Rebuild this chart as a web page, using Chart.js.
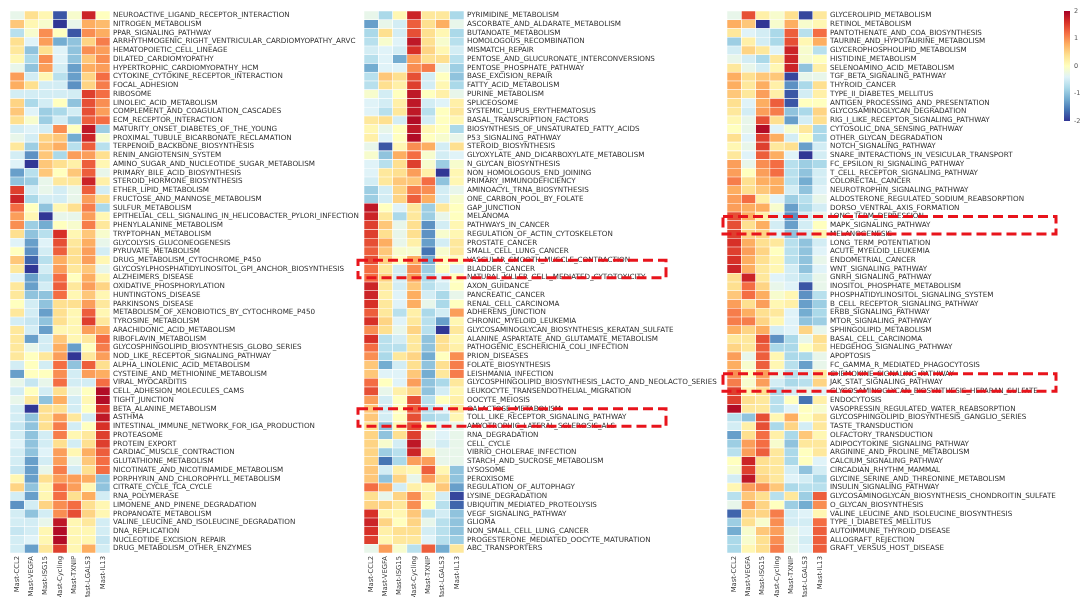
<!DOCTYPE html>
<html>
<head>
<meta charset="utf-8">
<script src="https://cdn.jsdelivr.net/npm/chart.js@4.4.1/dist/chart.umd.min.js"></script>
<style>
  html, body { margin: 0; padding: 0; background: #ffffff; }
  #wrap { position: relative; width: 1083px; height: 597px; overflow: hidden; background: #ffffff; }
  .layer { position: absolute; left: 0; top: 0; width: 1083px; height: 597px; pointer-events: none; }
</style>
</head>
<body>
<div id="wrap">
  <canvas class="layer" id="panelA" width="1083" height="597"></canvas>
  <canvas class="layer" id="panelB" width="1083" height="597"></canvas>
  <canvas class="layer" id="panelC" width="1083" height="597"></canvas>
  <canvas class="layer" id="legend" width="1083" height="597"></canvas>
</div>
<script>
// Mast cell subsets (heatmap columns)
const samples = ['Mast-CCL2', 'Mast-VEGFA', 'Mast-ISG15', 'Mast-Cycling', 'Mast-TXNIP', 'Mast-LGALS3', 'Mast-IL13'];

// KEGG pathway activity scores (row-scaled), first block
const pathwaysA = [
  'NEUROACTIVE_LIGAND_RECEPTOR_INTERACTION', 'NITROGEN_METABOLISM', 'PPAR_SIGNALING_PATHWAY',
  'ARRHYTHMOGENIC_RIGHT_VENTRICULAR_CARDIOMYOPATHY_ARVC', 'HEMATOPOIETIC_CELL_LINEAGE', 'DILATED_CARDIOMYOPATHY',
  'HYPERTROPHIC_CARDIOMYOPATHY_HCM', 'CYTOKINE_CYTOKINE_RECEPTOR_INTERACTION', 'FOCAL_ADHESION', 'RIBOSOME',
  'LINOLEIC_ACID_METABOLISM', 'COMPLEMENT_AND_COAGULATION_CASCADES', 'ECM_RECEPTOR_INTERACTION',
  'MATURITY_ONSET_DIABETES_OF_THE_YOUNG', 'PROXIMAL_TUBULE_BICARBONATE_RECLAMATION', 'TERPENOID_BACKBONE_BIOSYNTHESIS',
  'RENIN_ANGIOTENSIN_SYSTEM', 'AMINO_SUGAR_AND_NUCLEOTIDE_SUGAR_METABOLISM', 'PRIMARY_BILE_ACID_BIOSYNTHESIS',
  'STEROID_HORMONE_BIOSYNTHESIS', 'ETHER_LIPID_METABOLISM', 'FRUCTOSE_AND_MANNOSE_METABOLISM', 'SULFUR_METABOLISM',
  'EPITHELIAL_CELL_SIGNALING_IN_HELICOBACTER_PYLORI_INFECTION', 'PHENYLALANINE_METABOLISM', 'TRYPTOPHAN_METABOLISM',
  'GLYCOLYSIS_GLUCONEOGENESIS', 'PYRUVATE_METABOLISM', 'DRUG_METABOLISM_CYTOCHROME_P450',
  'GLYCOSYLPHOSPHATIDYLINOSITOL_GPI_ANCHOR_BIOSYNTHESIS', 'ALZHEIMERS_DISEASE', 'OXIDATIVE_PHOSPHORYLATION',
  'HUNTINGTONS_DISEASE', 'PARKINSONS_DISEASE', 'METABOLISM_OF_XENOBIOTICS_BY_CYTOCHROME_P450', 'TYROSINE_METABOLISM',
  'ARACHIDONIC_ACID_METABOLISM', 'RIBOFLAVIN_METABOLISM', 'GLYCOSPHINGOLIPID_BIOSYNTHESIS_GLOBO_SERIES',
  'NOD_LIKE_RECEPTOR_SIGNALING_PATHWAY', 'ALPHA_LINOLENIC_ACID_METABOLISM', 'CYSTEINE_AND_METHIONINE_METABOLISM',
  'VIRAL_MYOCARDITIS', 'CELL_ADHESION_MOLECULES_CAMS', 'TIGHT_JUNCTION', 'BETA_ALANINE_METABOLISM', 'ASTHMA',
  'INTESTINAL_IMMUNE_NETWORK_FOR_IGA_PRODUCTION', 'PROTEASOME', 'PROTEIN_EXPORT', 'CARDIAC_MUSCLE_CONTRACTION',
  'GLUTATHIONE_METABOLISM', 'NICOTINATE_AND_NICOTINAMIDE_METABOLISM', 'PORPHYRIN_AND_CHLOROPHYLL_METABOLISM',
  'CITRATE_CYCLE_TCA_CYCLE', 'RNA_POLYMERASE', 'LIMONENE_AND_PINENE_DEGRADATION', 'PROPANOATE_METABOLISM',
  'VALINE_LEUCINE_AND_ISOLEUCINE_DEGRADATION', 'DNA_REPLICATION', 'NUCLEOTIDE_EXCISION_REPAIR',
  'DRUG_METABOLISM_OTHER_ENZYMES'
];
const scoresA = [
  [-0.3, 0.4, 0.1, -1.8, -0.1, 1.7, 0.0],
  [0.6, 0.1, -0.1, -2.0, -0.3, 0.8, 0.7],
  [-0.7, -0.1, 1.0, 0.0, -1.8, 1.0, 0.8],
  [0.4, -0.4, 0.9, -1.2, -1.0, 0.5, 1.1],
  [0.3, -1.0, 0.4, -0.4, -1.0, 1.0, 0.9],
  [0.1, -0.8, 1.0, -0.4, -1.0, 0.6, 1.0],
  [-0.3, -1.0, 0.9, -0.5, -1.3, 0.8, 0.9],
  [0.9, -0.5, 0.1, -0.7, -1.3, 0.5, 1.2],
  [0.8, 0.4, -0.5, -0.5, -1.4, 0.5, 1.1],
  [-0.5, -0.5, -0.5, -0.5, -0.5, 1.5, 1.2],
  [0.5, -0.8, -0.5, 0.0, -1.0, 1.4, 1.0],
  [0.6, -0.4, -0.9, -0.8, -0.5, 1.4, 0.9],
  [0.4, -0.1, -0.9, -0.5, -0.9, 1.3, 1.2],
  [-0.5, -0.4, -0.5, 1.0, 0.0, 1.8, -0.9],
  [-0.3, -0.5, 0.5, 0.6, -1.2, 1.7, -0.1],
  [0.3, -0.9, 0.6, 0.8, -0.7, 1.3, -0.7],
  [-0.5, -1.4, 0.6, -0.8, 0.9, 0.9, 0.4],
  [-0.4, -2.0, 0.6, 0.4, 0.2, 1.3, 0.1],
  [-1.3, -0.7, 0.6, 0.0, 0.6, 1.3, -0.3],
  [-1.0, -0.9, -0.3, 0.3, 0.3, 1.7, 0.2],
  [1.5, -0.5, -0.3, -0.5, -0.3, 1.3, -0.5],
  [1.7, -0.8, -0.5, -0.5, -0.3, 0.9, 0.4],
  [1.2, 0.0, -1.0, 0.1, 0.4, 1.1, -0.8],
  [0.9, 0.1, -2.0, -0.3, -0.3, 0.9, 0.1],
  [1.0, -0.9, -1.2, 0.0, -0.1, 1.1, 0.3],
  [0.4, -1.0, -0.7, 1.6, 0.1, 0.6, -0.1],
  [-0.4, -1.3, -0.4, 1.4, 0.3, 0.8, -0.3],
  [0.0, -1.4, -0.5, 1.3, 0.4, 0.9, -0.5],
  [0.6, -1.7, -0.7, 0.8, 0.4, 0.9, 0.1],
  [0.3, -2.0, -0.5, 0.9, 0.3, 0.6, -0.3],
  [-0.4, -1.3, -0.7, 1.2, 0.0, 0.8, 0.1],
  [0.3, -1.3, -0.5, 1.3, 0.3, 0.9, 0.5],
  [0.3, -1.0, -1.0, 1.2, 0.1, 0.6, 0.1],
  [0.0, -0.5, -1.0, 0.4, 0.4, 0.9, 0.3],
  [0.3, -0.5, -1.3, 0.4, 0.1, 1.3, 0.1],
  [-0.5, -0.6, -1.0, 0.4, 0.1, 1.5, 0.3],
  [0.3, -0.5, -1.3, 0.1, 0.1, 0.9, 0.8],
  [0.3, -1.3, -0.5, 0.6, 0.1, 0.3, 1.2],
  [0.3, -0.3, -0.5, 0.8, -1.3, 0.0, 1.1],
  [0.3, 0.0, 0.3, 0.9, -2.0, 0.3, 0.9],
  [-0.5, 0.0, -0.5, 1.2, -1.0, 1.3, 0.4],
  [-1.3, 0.0, 0.0, 1.0, -0.5, 0.9, 0.8],
  [-0.3, -0.6, -0.3, 1.2, -0.5, -0.5, 1.2],
  [-0.5, 0.0, -0.5, 0.4, -0.3, 0.0, 1.9],
  [-0.3, 0.3, -1.0, 0.8, -0.5, 0.1, 1.9],
  [-0.5, -2.0, 0.4, 0.4, -0.5, 0.0, 1.6],
  [-0.5, -1.0, 0.4, 0.9, 0.3, -0.5, 1.8],
  [-0.6, -1.0, 0.4, 1.1, -0.5, 0.0, 1.6],
  [-0.5, -1.0, -0.5, 1.1, 0.1, 0.3, 1.5],
  [-0.4, -1.0, -0.5, 0.4, -0.5, 0.4, 1.5],
  [-0.5, -1.0, -0.4, 0.9, 0.1, 0.8, 1.3],
  [-0.5, -1.3, -0.5, 0.9, -0.3, 0.6, 1.2],
  [-0.6, -1.3, -0.3, 1.1, -0.5, 0.4, 1.2],
  [0.1, -1.3, 0.4, 0.9, 0.9, 0.8, -1.0],
  [0.5, -1.0, 0.1, 1.2, 0.9, 0.1, -1.0],
  [-0.5, -1.3, 0.1, 1.2, 0.4, 0.8, -0.5],
  [-1.4, -0.5, 0.5, 1.0, 1.2, 0.4, 0.1],
  [-0.5, -1.0, -0.5, 1.0, 1.4, 0.5, 0.1],
  [-0.5, -0.5, -0.3, 1.8, 0.1, 0.3, -0.5],
  [-0.6, -0.5, 0.1, 1.9, 0.1, 0.1, -0.5],
  [-0.5, -0.4, 0.1, 1.9, 0.1, 0.1, -0.6],
  [-0.5, -1.3, 0.3, 1.5, 0.1, 0.8, -0.5]
];

// second block
const pathwaysB = [
  'PYRIMIDINE_METABOLISM', 'ASCORBATE_AND_ALDARATE_METABOLISM', 'BUTANOATE_METABOLISM', 'HOMOLOGOUS_RECOMBINATION',
  'MISMATCH_REPAIR', 'PENTOSE_AND_GLUCURONATE_INTERCONVERSIONS', 'PENTOSE_PHOSPHATE_PATHWAY', 'BASE_EXCISION_REPAIR',
  'FATTY_ACID_METABOLISM', 'PURINE_METABOLISM', 'SPLICEOSOME', 'SYSTEMIC_LUPUS_ERYTHEMATOSUS',
  'BASAL_TRANSCRIPTION_FACTORS', 'BIOSYNTHESIS_OF_UNSATURATED_FATTY_ACIDS', 'P53_SIGNALING_PATHWAY',
  'STEROID_BIOSYNTHESIS', 'GLYOXYLATE_AND_DICARBOXYLATE_METABOLISM', 'N_GLYCAN_BIOSYNTHESIS',
  'NON_HOMOLOGOUS_END_JOINING', 'PRIMARY_IMMUNODEFICIENCY', 'AMINOACYL_TRNA_BIOSYNTHESIS', 'ONE_CARBON_POOL_BY_FOLATE',
  'GAP_JUNCTION', 'MELANOMA', 'PATHWAYS_IN_CANCER', 'REGULATION_OF_ACTIN_CYTOSKELETON', 'PROSTATE_CANCER',
  'SMALL_CELL_LUNG_CANCER', 'VASCULAR_SMOOTH_MUSCLE_CONTRACTION', 'BLADDER_CANCER',
  'NATURAL_KILLER_CELL_MEDIATED_CYTOTOXICITY', 'AXON_GUIDANCE', 'PANCREATIC_CANCER', 'RENAL_CELL_CARCINOMA',
  'ADHERENS_JUNCTION', 'CHRONIC_MYELOID_LEUKEMIA', 'GLYCOSAMINOGLYCAN_BIOSYNTHESIS_KERATAN_SULFATE',
  'ALANINE_ASPARTATE_AND_GLUTAMATE_METABOLISM', 'PATHOGENIC_ESCHERICHIA_COLI_INFECTION', 'PRION_DISEASES',
  'FOLATE_BIOSYNTHESIS', 'LEISHMANIA_INFECTION', 'GLYCOSPHINGOLIPID_BIOSYNTHESIS_LACTO_AND_NEOLACTO_SERIES',
  'LEUKOCYTE_TRANSENDOTHELIAL_MIGRATION', 'OOCYTE_MEIOSIS', 'GALACTOSE_METABOLISM',
  'TOLL_LIKE_RECEPTOR_SIGNALING_PATHWAY', 'AMYOTROPHIC_LATERAL_SCLEROSIS_ALS', 'RNA_DEGRADATION', 'CELL_CYCLE',
  'VIBRIO_CHOLERAE_INFECTION', 'STARCH_AND_SUCROSE_METABOLISM', 'LYSOSOME', 'PEROXISOME', 'REGULATION_OF_AUTOPHAGY',
  'LYSINE_DEGRADATION', 'UBIQUITIN_MEDIATED_PROTEOLYSIS', 'VEGF_SIGNALING_PATHWAY', 'GLIOMA',
  'NON_SMALL_CELL_LUNG_CANCER', 'PROGESTERONE_MEDIATED_OOCYTE_MATURATION', 'ABC_TRANSPORTERS'
];
const scoresB = [
  [-0.3, -0.8, 0.1, 1.7, 0.3, 0.3, -0.8],
  [-1.3, -0.3, -0.5, 1.3, 0.4, 0.8, -0.3],
  [-0.8, 0.4, -0.5, 1.4, 0.4, 0.1, -0.8],
  [-0.7, -0.1, -0.4, 1.8, 0.4, -0.1, -0.7],
  [-0.5, -0.4, -0.5, 1.6, 0.5, 0.1, -0.5],
  [-0.7, -0.4, -1.2, 0.9, 0.4, 0.4, -0.7],
  [-1.2, -0.4, -0.4, 1.0, 1.1, -0.3, -0.9],
  [-0.7, 0.6, 0.4, 1.4, -0.5, 0.0, -1.0],
  [-0.7, 0.4, 0.2, 1.5, -0.5, 0.1, -0.8],
  [-0.1, -0.5, 0.0, 1.8, 0.0, 0.2, -0.3],
  [-0.4, -0.5, 0.2, 1.8, -0.5, -0.4, 0.2],
  [-0.4, -0.7, 0.3, 1.8, -0.7, 0.0, 0.3],
  [0.3, 0.4, -0.5, 1.9, -0.5, 0.0, 0.1],
  [0.1, -0.3, 0.0, 1.8, 0.1, 0.0, -0.8],
  [0.2, -0.4, 0.0, 1.9, 0.0, -0.1, -0.3],
  [-0.3, -1.8, 0.1, 1.0, 0.8, -0.5, 0.4],
  [-0.1, -1.0, 0.8, 1.2, -0.1, -0.5, -0.4],
  [-0.4, -0.7, 0.4, 1.5, -0.1, -0.9, -0.1],
  [-0.4, 0.3, 0.4, 0.9, 0.2, -2.0, 0.1],
  [-0.5, 0.3, 0.6, 0.6, 1.2, -1.0, 0.1],
  [-0.9, -0.5, 0.5, 1.1, 1.0, -0.5, -0.3],
  [-0.9, -0.5, 0.5, 1.3, 0.8, -0.5, -0.1],
  [1.8, 0.0, -0.4, 0.3, -0.9, 0.3, 0.0],
  [1.7, 0.3, -0.8, 0.3, -0.9, -0.3, 0.0],
  [1.5, 0.6, -0.3, 0.4, -1.4, -0.5, 0.1],
  [1.5, 0.4, -0.3, 0.4, -1.4, -0.1, 0.1],
  [1.4, 0.8, -0.3, 0.2, -1.3, -0.5, 0.3],
  [1.3, 0.6, -0.1, -0.1, -1.6, -0.1, 0.3],
  [1.4, 0.5, 0.0, 0.8, -1.2, 0.0, 0.0],
  [1.2, 0.3, -0.5, 1.0, -0.9, 0.0, -0.4],
  [1.2, 0.5, -0.5, 0.9, -0.8, -0.4, 0.0],
  [1.7, 0.3, -0.5, 0.6, -0.7, -0.5, 0.0],
  [1.7, 0.2, -0.4, 0.8, -0.5, -0.8, -0.3],
  [1.6, 0.3, -0.4, 0.8, -0.3, -0.8, 0.0],
  [1.3, 0.3, -0.7, 0.2, -0.8, -0.5, 0.9],
  [1.6, 0.5, -0.4, 0.3, -0.7, -1.3, 0.1],
  [1.0, 0.4, -0.3, 0.5, -0.7, -2.0, 0.3],
  [1.6, -0.7, -0.5, 0.3, -1.0, 0.4, 0.1],
  [1.2, -0.7, -0.7, 0.3, -1.0, 0.4, 0.2],
  [1.0, -0.8, 0.3, 0.5, -1.2, 0.0, 1.0],
  [0.6, -1.2, -0.5, 0.4, -1.0, 0.4, 1.1],
  [0.6, -0.4, -0.4, 0.6, -1.2, 0.3, 1.1],
  [1.2, 0.0, -0.4, 0.9, -1.0, -0.8, 0.3],
  [1.4, -0.3, 0.2, 0.5, -1.0, -0.5, 0.1],
  [0.9, -0.5, 0.0, 1.4, -0.7, 0.0, 0.2],
  [0.6, -0.5, 0.0, 1.3, -0.7, -0.4, 0.3],
  [0.6, -0.5, 0.0, 1.4, -0.8, -0.7, 0.1],
  [0.4, -1.0, 0.1, 1.4, 0.0, -0.4, -0.3],
  [0.5, -1.0, 0.4, 1.5, -0.3, -0.4, -0.3],
  [0.5, -0.1, -0.5, 1.8, -0.3, -0.5, -0.3],
  [0.5, -0.9, -0.7, 1.7, 0.2, -0.3, -0.3],
  [0.5, -1.6, -0.8, 0.9, 0.9, -0.3, -0.3],
  [0.6, -0.5, 0.2, 0.1, 1.3, 0.1, -1.0],
  [0.6, -1.0, 0.5, -0.3, 0.9, 0.4, -1.0],
  [1.2, 0.8, -0.5, 0.2, 0.1, 0.6, -1.3],
  [0.4, -0.3, 0.5, 1.0, 0.2, -0.5, -1.9],
  [0.5, 0.5, 0.3, 1.0, 0.0, -0.7, -1.7],
  [1.6, 0.1, 0.1, 0.6, -0.7, -0.5, -1.0],
  [1.7, 0.5, 0.0, 0.5, -0.3, -0.7, -1.0],
  [1.6, 0.2, 0.4, 0.4, -0.5, -0.7, -1.0],
  [1.5, 0.1, 0.3, 0.3, -0.4, -0.7, -0.9],
  [-0.3, 0.9, -0.1, -0.7, 1.3, -1.2, 0.3]
];

// third block
const pathwaysC = [
  'GLYCEROLIPID_METABOLISM', 'RETINOL_METABOLISM', 'PANTOTHENATE_AND_COA_BIOSYNTHESIS',
  'TAURINE_AND_HYPOTAURINE_METABOLISM', 'GLYCEROPHOSPHOLIPID_METABOLISM', 'HISTIDINE_METABOLISM',
  'SELENOAMINO_ACID_METABOLISM', 'TGF_BETA_SIGNALING_PATHWAY', 'THYROID_CANCER', 'TYPE_II_DIABETES_MELLITUS',
  'ANTIGEN_PROCESSING_AND_PRESENTATION', 'GLYCOSAMINOGLYCAN_DEGRADATION', 'RIG_I_LIKE_RECEPTOR_SIGNALING_PATHWAY',
  'CYTOSOLIC_DNA_SENSING_PATHWAY', 'OTHER_GLYCAN_DEGRADATION', 'NOTCH_SIGNALING_PATHWAY',
  'SNARE_INTERACTIONS_IN_VESICULAR_TRANSPORT', 'FC_EPSILON_RI_SIGNALING_PATHWAY', 'T_CELL_RECEPTOR_SIGNALING_PATHWAY',
  'COLORECTAL_CANCER', 'NEUROTROPHIN_SIGNALING_PATHWAY', 'ALDOSTERONE_REGULATED_SODIUM_REABSORPTION',
  'DORSO_VENTRAL_AXIS_FORMATION', 'LONG_TERM_DEPRESSION', 'MAPK_SIGNALING_PATHWAY', 'MELANOGENESIS',
  'LONG_TERM_POTENTIATION', 'ACUTE_MYELOID_LEUKEMIA', 'ENDOMETRIAL_CANCER', 'WNT_SIGNALING_PATHWAY',
  'GNRH_SIGNALING_PATHWAY', 'INOSITOL_PHOSPHATE_METABOLISM', 'PHOSPHATIDYLINOSITOL_SIGNALING_SYSTEM',
  'B_CELL_RECEPTOR_SIGNALING_PATHWAY', 'ERBB_SIGNALING_PATHWAY', 'MTOR_SIGNALING_PATHWAY', 'SPHINGOLIPID_METABOLISM',
  'BASAL_CELL_CARCINOMA', 'HEDGEHOG_SIGNALING_PATHWAY', 'APOPTOSIS', 'FC_GAMMA_R_MEDIATED_PHAGOCYTOSIS',
  'CHEMOKINE_SIGNALING_PATHWAY', 'JAK_STAT_SIGNALING_PATHWAY', 'GLYCOSAMINOGLYCAN_BIOSYNTHESIS_HEPARAN_SULFATE',
  'ENDOCYTOSIS', 'VASOPRESSIN_REGULATED_WATER_REABSORPTION', 'GLYCOSPHINGOLIPID_BIOSYNTHESIS_GANGLIO_SERIES',
  'TASTE_TRANSDUCTION', 'OLFACTORY_TRANSDUCTION', 'ADIPOCYTOKINE_SIGNALING_PATHWAY', 'ARGININE_AND_PROLINE_METABOLISM',
  'CALCIUM_SIGNALING_PATHWAY', 'CIRCADIAN_RHYTHM_MAMMAL', 'GLYCINE_SERINE_AND_THREONINE_METABOLISM',
  'INSULIN_SIGNALING_PATHWAY', 'GLYCOSAMINOGLYCAN_BIOSYNTHESIS_CHONDROITIN_SULFATE', 'O_GLYCAN_BIOSYNTHESIS',
  'VALINE_LEUCINE_AND_ISOLEUCINE_BIOSYNTHESIS', 'TYPE_I_DIABETES_MELLITUS', 'AUTOIMMUNE_THYROID_DISEASE',
  'ALLOGRAFT_REJECTION', 'GRAFT_VERSUS_HOST_DISEASE'
];
const scoresC = [
  [-0.3, 1.4, 0.2, -0.1, 0.4, -1.9, 0.3],
  [0.8, 0.6, -2.0, -0.1, 0.8, -0.1, 0.1],
  [0.3, -0.4, -0.5, -0.8, 1.3, -0.7, 1.2],
  [-0.9, 0.2, -0.5, -0.8, 1.4, 0.1, 0.8],
  [-0.5, 0.5, 0.3, -0.4, 1.7, -0.1, -0.7],
  [-0.3, -0.5, -0.8, 0.3, 1.7, -0.1, 0.0],
  [0.3, -0.3, -0.5, 0.1, 1.7, -1.0, 0.2],
  [0.8, 0.4, 0.6, 0.6, -1.9, -0.3, -0.3],
  [0.8, 0.3, 0.8, 0.2, -1.4, -0.8, 0.4],
  [0.6, 0.3, 0.9, 0.2, -1.8, -0.5, 0.2],
  [0.4, -0.4, 0.8, 1.3, -1.8, 0.0, 0.0],
  [0.3, -0.5, 0.9, 1.1, -1.0, -0.8, 0.5],
  [0.1, -0.3, 1.4, 0.4, -1.3, -0.5, 0.4],
  [0.0, -0.3, 1.9, -0.4, -0.1, 0.3, -0.8],
  [0.4, -0.4, 1.5, 0.8, -0.5, 0.0, -0.8],
  [0.1, -0.3, 1.5, 0.3, 0.4, -1.3, -0.5],
  [0.3, -0.4, 1.3, 0.8, -0.4, -2.0, -0.5],
  [0.9, -0.3, 1.0, 1.2, -0.7, -0.9, -0.8],
  [0.9, 0.0, 0.9, 1.2, -0.7, -1.0, -0.5],
  [1.1, 0.4, 0.8, 0.8, -0.7, -1.2, -0.5],
  [0.8, 0.4, 0.6, 0.8, -0.5, -1.0, -0.4],
  [0.9, 1.2, 0.2, -0.4, -0.9, -0.7, -0.3],
  [0.9, 0.8, 0.8, -0.1, -1.3, -0.8, -0.5],
  [1.4, 0.8, 0.2, -0.4, -1.4, -0.5, -0.3],
  [1.4, 0.4, 0.8, -0.5, -1.3, -0.5, 0.0],
  [1.5, 0.5, 0.5, -0.4, -1.0, -0.5, 0.1],
  [1.6, 0.8, 0.4, 0.3, -0.7, -1.0, -0.5],
  [1.5, 0.9, 0.5, 0.0, -0.7, -1.0, -0.4],
  [1.6, 0.8, 0.4, 0.1, -0.7, -1.0, -0.3],
  [1.7, 0.8, 0.3, 0.1, -0.5, -1.0, -0.4],
  [0.4, 1.7, 0.3, -0.4, -0.5, -0.7, -0.3],
  [0.4, 1.2, 0.5, -0.3, -0.4, -1.8, -0.3],
  [0.6, 1.2, 0.8, -0.1, 0.1, -1.4, -0.7],
  [0.9, 0.4, 0.9, 0.1, 0.2, -1.3, -0.9],
  [1.1, 0.8, 0.4, 0.3, -0.4, -1.2, -0.8],
  [1.1, 1.1, 0.5, 0.1, -0.4, -1.0, -0.9],
  [0.8, 0.5, 0.8, -0.5, -0.4, 0.5, -0.3],
  [0.3, 0.3, 1.4, -1.4, -0.8, -0.3, 0.4],
  [0.5, 0.3, 1.3, -0.8, -0.8, 0.0, 0.3],
  [0.9, -0.3, 1.3, 0.1, -0.8, -0.8, -0.3],
  [0.8, -0.1, 1.3, 0.1, -0.7, -1.3, -0.3],
  [1.0, 0.0, 0.9, -0.3, -0.7, -0.5, 0.3],
  [1.1, -0.1, 0.9, -0.5, -0.8, -0.7, 0.5],
  [1.5, 0.1, 0.4, -0.8, -0.5, -0.3, -0.4],
  [1.5, 0.4, 0.3, -0.7, 0.0, -1.6, 0.2],
  [1.9, 0.3, 0.3, -0.7, -0.4, 0.0, -0.1],
  [-0.7, -1.0, 1.4, 0.1, 0.8, 0.0, 0.3],
  [-0.5, 0.2, 1.4, -0.8, 0.5, -0.5, 0.3],
  [-1.3, 0.4, 1.2, 0.2, -0.8, 0.6, 0.1],
  [-0.9, 0.9, 1.2, -0.1, -1.0, 0.3, 0.3],
  [-0.7, 0.9, 1.3, 0.3, -0.8, 0.0, 0.3],
  [0.0, 1.7, 0.4, 0.3, -0.8, 0.0, -0.4],
  [-0.1, 1.5, 0.4, 0.3, -0.5, -1.0, -0.5],
  [-0.5, 1.8, 0.5, 0.3, -0.4, -0.5, -0.8],
  [0.1, 0.9, 1.0, 0.6, -0.8, -0.7, -0.7],
  [-0.7, 0.6, 0.4, -0.7, 0.3, -0.9, 1.3],
  [-0.3, 0.9, 0.5, 0.0, -0.9, -1.2, 1.0],
  [-1.7, 0.5, 0.5, 1.1, -0.5, -0.4, 0.1],
  [-0.9, 0.4, -0.1, 1.0, -0.5, -0.5, 1.2],
  [-1.2, -0.1, 0.6, 0.9, -0.3, -0.4, 1.3],
  [-0.8, -0.1, 0.4, 1.0, -0.3, -0.5, 1.3],
  [-0.8, 0.1, 0.4, 1.1, -0.3, -0.4, 1.3]
];

// pathways outlined with dashed frames
const highlightB = ['BLADDER_CANCER', 'TOLL_LIKE_RECEPTOR_SIGNALING_PATHWAY'];
const highlightC = ['MAPK_SIGNALING_PATHWAY', 'JAK_STAT_SIGNALING_PATHWAY'];

// colour key range
const keyMin = -2;
const keyMax = 2;

// ---------------------------------------------------------------------------
// diverging palette (blue - pale yellow - red)
const paletteStops = ['#313695', '#4575b4', '#74add1', '#abd9e9', '#e0f3f8', '#ffffbf',
                      '#fee090', '#fdae61', '#f46d43', '#d73027', '#a50026'];

function hexToRgb(h) {
  const n = parseInt(h.slice(1), 16);
  return [(n >> 16) & 255, (n >> 8) & 255, n & 255];
}
const paletteRgb = paletteStops.map(hexToRgb);

function colorFor(v) {
  const t = Math.max(0, Math.min(1, (v - keyMin) / (keyMax - keyMin)));
  const pos = t * (paletteRgb.length - 1);
  const i = Math.min(paletteRgb.length - 2, Math.floor(pos));
  const f = pos - i;
  const a = paletteRgb[i], b = paletteRgb[i + 1];
  const c = a.map((x, k) => Math.round(x + (b[k] - x) * f));
  return `rgb(${c[0]},${c[1]},${c[2]})`;
}

Chart.defaults.font.family = "'DejaVu Sans', 'Liberation Sans', sans-serif";
Chart.defaults.color = '#333333';

const FULL_W = 1083;
const GRID_TOP = 11;
const GRID_BOTTOM = 553;
const GRID_W = 100;
const LABEL_FONT = 7.2;

// dashed frames around selected rows: from the row above to the row below
const framePlugin = {
  id: 'rowFrames',
  afterDatasetsDraw(chart, args, opts) {
    if (!opts.rows || !opts.rows.length) return;
    const yScale = chart.scales.y;
    const area = chart.chartArea;
    const ctx = chart.ctx;
    const labels = chart.data.labels;
    ctx.save();
    ctx.strokeStyle = '#e8141c';
    ctx.lineWidth = 3;
    ctx.setLineDash([10, 5]);
    opts.rows.forEach(name => {
      const idx = labels.indexOf(name);
      if (idx < 0) return;
      const y0 = yScale.getPixelForValue(idx - 1);
      const y1 = yScale.getPixelForValue(idx + 1);
      const x0 = area.left - opts.leftGap;
      const x1 = area.right + opts.reach;
      ctx.strokeRect(x0, y0, x1 - x0, y1 - y0);
    });
    ctx.restore();
  }
};

function heatmap(canvasId, rows, scores, gridLeft, labelW, frameRows, frameGap, frameReach) {
  const datasets = samples.map((s, j) => ({
    label: s,
    data: rows.map(() => [j, j + 1]),
    backgroundColor: scores.map(r => colorFor(r[j])),
    borderColor: 'rgba(255,255,255,0.75)',
    borderWidth: 0.6,
    borderSkipped: false,
    grouped: false,
    barPercentage: 1,
    categoryPercentage: 1
  }));
  return new Chart(document.getElementById(canvasId), {
    type: 'bar',
    data: { labels: rows, datasets },
    options: {
      indexAxis: 'y',
      responsive: false,
      animation: false,
      devicePixelRatio: 1,
      events: [],
      layout: {
        padding: {
          left: gridLeft,
          top: GRID_TOP,
          right: FULL_W - gridLeft - GRID_W - labelW,
          bottom: 0
        }
      },
      plugins: {
        legend: { display: false },
        tooltip: { enabled: false },
        rowFrames: { rows: frameRows, leftGap: frameGap, reach: frameReach }
      },
      scales: {
        x: {
          type: 'linear',
          min: 0,
          max: samples.length,
          position: 'bottom',
          grid: { display: false, drawTicks: false },
          border: { display: false },
          afterBuildTicks(scale) {
            scale.ticks = samples.map((s, i) => ({ value: i + 0.5 }));
          },
          afterFit(scale) { scale.height = 597 - GRID_BOTTOM; },
          ticks: {
            autoSkip: false,
            minRotation: 90,
            maxRotation: 90,
            padding: 3,
            color: '#3a3a3a',
            font: { size: 6.8 },
            callback: (v, i) => samples[i]
          }
        },
        y: {
          type: 'category',
          position: 'right',
          offset: true,
          grid: { display: false, drawTicks: false },
          border: { display: false },
          afterFit(scale) { scale.width = labelW; },
          ticks: {
            autoSkip: false,
            padding: 3,
            color: '#2e2e2e',
            font: { size: LABEL_FONT }
          }
        }
      }
    },
    plugins: [framePlugin]
  });
}

heatmap('panelA', pathwaysA, scoresA, 10, 262, [], 0, 0);
heatmap('panelB', pathwaysB, scoresB, 364, 262, highlightB, 6, 202);
heatmap('panelC', pathwaysC, scoresC, 727, 250, highlightC, 4, 229);

// colour key: one floating bar spanning the key range, filled with the palette
new Chart(document.getElementById('legend'), {
  type: 'bar',
  data: {
    labels: ['key'],
    datasets: [{
      data: [[keyMin, keyMax]],
      barPercentage: 1,
      categoryPercentage: 1,
      borderWidth: 0,
      backgroundColor(ctx) {
        const area = ctx.chart.chartArea;
        if (!area) return '#cccccc';
        const g = ctx.chart.ctx.createLinearGradient(0, area.bottom, 0, area.top);
        paletteStops.forEach((c, i) => g.addColorStop(i / (paletteStops.length - 1), c));
        return g;
      }
    }]
  },
  options: {
    responsive: false,
    animation: false,
    devicePixelRatio: 1,
    events: [],
    layout: { padding: { left: 1064, top: 11, right: 0, bottom: 597 - 121 } },
    plugins: { legend: { display: false }, tooltip: { enabled: false } },
    scales: {
      x: { display: false },
      y: {
        position: 'right',
        min: keyMin,
        max: keyMax,
        grid: { display: false, drawTicks: false },
        border: { display: false },
        afterFit(scale) { scale.width = 13; },
        ticks: { stepSize: 1, padding: 4, color: '#555555', font: { size: 6.5 } }
      }
    }
  }
});
</script>
</body>
</html>
